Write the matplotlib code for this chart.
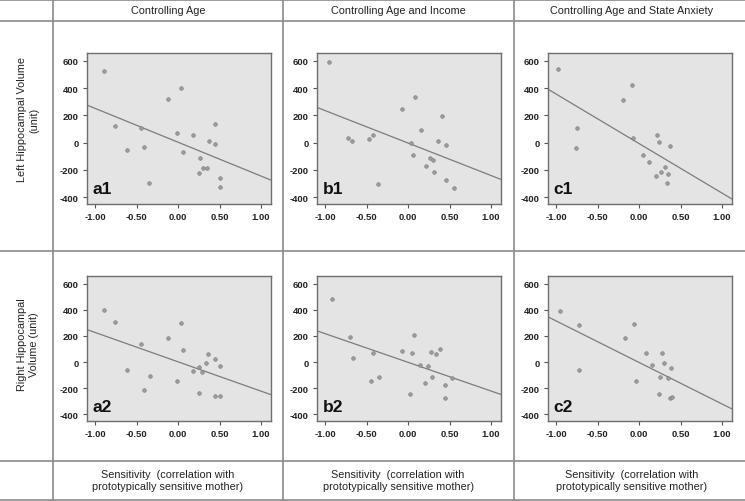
import numpy as np
import matplotlib.pyplot as plt
from matplotlib.lines import Line2D

plt.rcParams['axes.unicode_minus'] = False

# Partial regression data (sensitivity, hippocampal volume residual)
a1_x = [-0.90, 0.04, -0.12, -0.76, -0.45, 0.45, -0.01, 0.18, 0.37, 0.45,
        -0.62, -0.41, 0.06, 0.26, 0.30, 0.35, 0.25, 0.51, -0.35, 0.50]
a1_y = [525, 398, 317, 122, 110, 134, 71, 56, 12, -12,
        -51, -29, -66, -115, -183, -183, -222, -256, -298, -327]

b1_x = [-0.96, 0.08, -0.08, 0.41, 0.15, -0.73, -0.68, -0.43, -0.47, 0.03,
        0.36, 0.46, 0.06, 0.26, 0.30, 0.21, 0.31, 0.46, 0.55, -0.36]
b1_y = [593, 337, 249, 195, 93, 37, 12, 54, 24, 0,
        12, -20, -88, -115, -129, -173, -217, -271, -329, -305]

c1_x = [-0.98, -0.09, -0.20, -0.75, -0.76, -0.07, 0.21, 0.24, 0.37, 0.05,
        0.12, 0.31, 0.26, 0.35, 0.20, 0.34]
c1_y = [542, 420, 315, 110, -40, 32, 55, 2, -22, -92,
        -140, -180, -218, -230, -248, -298]

a2_x = [-0.89, -0.76, 0.04, -0.12, -0.45, 0.06, 0.36, 0.45, 0.34, 0.51,
        0.25, 0.18, 0.29, -0.62, -0.34, -0.01, -0.41, 0.25, 0.45, 0.50]
a2_y = [400, 304, 296, 186, 141, 90, 60, 20, -5, -30,
        -38, -70, -73, -58, -108, -148, -216, -234, -261, -261]

b2_x = [-0.92, -0.70, 0.07, 0.38, -0.08, 0.28, 0.34, 0.05, -0.42, -0.66,
        0.14, 0.24, 0.29, -0.35, -0.45, 0.20, 0.44, 0.53, 0.02, 0.44]
b2_y = [485, 192, 210, 104, 88, 78, 63, 68, 68, 28,
        -25, -30, -116, -111, -141, -162, -177, -121, -245, -273]

c2_x = [-0.96, -0.72, -0.06, -0.17, 0.08, 0.28, 0.30, 0.16, 0.39, -0.73,
        0.25, 0.35, -0.04, 0.24, 0.37, 0.40]
c2_y = [391, 280, 295, 182, 73, 66, -5, -20, -43, -63,
        -114, -119, -141, -242, -275, -268]

# fit lines (intercept, slope)
fit_a1 = (3, -248)
fit_b1 = (-3, -238)
fit_c1 = (-7, -363)
fit_a2 = (2, -224)
fit_b2 = (-2, -219)
fit_c2 = (-3, -317)

panel_names = [['a1', 'b1', 'c1'], ['a2', 'b2', 'c2']]
panel_data = [[(a1_x, a1_y, fit_a1), (b1_x, b1_y, fit_b1), (c1_x, c1_y, fit_c1)],
              [(a2_x, a2_y, fit_a2), (b2_x, b2_y, fit_b2), (c2_x, c2_y, fit_c2)]]

col_titles = ['Controlling Age', 'Controlling Age and Income',
              'Controlling Age and State Anxiety']
row_titles = ['Left Hippocampal Volume\n(unit)', 'Right Hippocampal\nVolume (unit)']
x_title = 'Sensitivity  (correlation with\nprototypically sensitive mother)'

x_ticks = [-1.0, -0.5, 0.0, 0.5, 1.0]
y_ticks = [-400, -200, 0, 200, 400, 600]

W, H = 745, 502
fig = plt.figure(figsize=(W / 100, H / 100), dpi=100)
label_font = ['Liberation Sans', 'DejaVu Sans']


def px(x, y):
    # pixel coords (top-left origin) -> figure fraction
    return x / W, 1 - y / H


# table grid
grid_col = '#8a8a8a'
for yy in [0.8, 22, 252, 462, 501]:
    fig.add_artist(Line2D([0, 1], [1 - yy / H] * 2, color=grid_col, lw=1.2))
for xx in [53, 283, 514]:
    fig.add_artist(Line2D([xx / W] * 2, [0, 1], color=grid_col, lw=1.2))

col_centers = [168, 398, 632]
for cx, t in zip(col_centers, col_titles):
    fig.text(*px(cx, 11.5), t, ha='center', va='center', fontsize=7.8,
             family=label_font, color='#222222')
    fig.text(*px(cx, 481), x_title, ha='center', va='center', fontsize=7.8,
             family=label_font, color='#222222', linespacing=1.35)

for cy, t in zip([120, 345], row_titles):
    fig.text(*px(28, cy), t, ha='center', va='center', fontsize=7.8,
             family=label_font, color='#222222', rotation=90, linespacing=1.35)

# axes boxes in pixels: left, top, width, height
lefts = [87, 317, 548]
tops = [54, 277]
heights = [151, 145]
width = 184

for r in range(2):
    for c in range(3):
        l, t = lefts[c], tops[r]
        ax = fig.add_axes([l / W, 1 - (t + heights[r]) / H, width / W, heights[r] / H])
        ax.set_facecolor('#e4e4e4')
        xs, ys, (b0, b1) = panel_data[r][c]
        ax.scatter(xs, ys, s=7, facecolor='#9c9c9c', edgecolor='#7a7a7a',
                   linewidths=0.4, zorder=3)
        xl = np.array([-1.1, 1.12])
        ax.plot(xl, b0 + b1 * xl, color='#7c7c7c', lw=0.9, zorder=2)
        ax.set_xlim(-1.1, 1.12)
        ax.set_ylim(-450, 658)
        ax.set_xticks(x_ticks)
        ax.set_xticklabels(['%.2f' % v for v in x_ticks])
        ax.set_yticks(y_ticks)
        ax.tick_params(length=3, width=0.8, color='#555555', labelsize=6.8,
                       pad=3, labelcolor='#222222')
        for lab in ax.get_xticklabels() + ax.get_yticklabels():
            lab.set_fontweight('bold')
            lab.set_family('Liberation Sans')
        for sp in ax.spines.values():
            sp.set_color('#6e6e6e')
            sp.set_linewidth(1.0)
        ax.text(0.03, 0.05, panel_names[r][c], transform=ax.transAxes,
                fontsize=12.5, fontweight='bold', family='Liberation Sans',
                color='#111111', ha='left', va='bottom')

fig.savefig('out.png', dpi=100)
